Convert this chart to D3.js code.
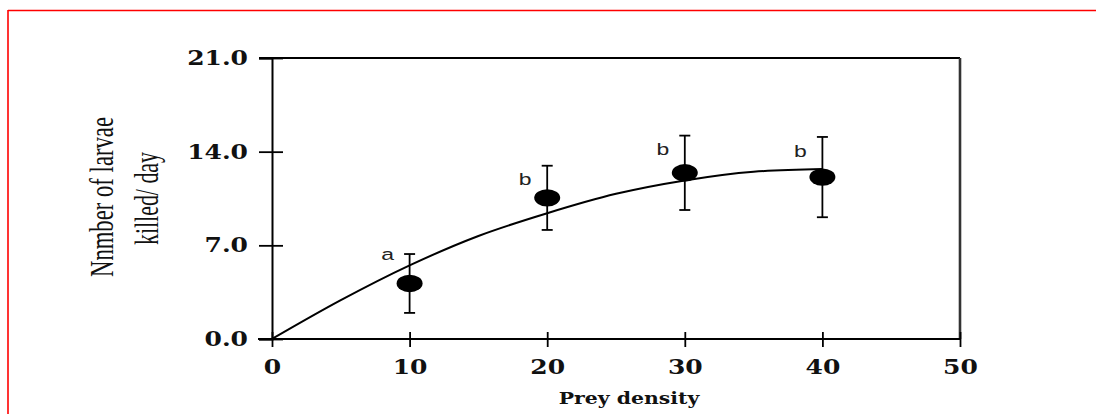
<!DOCTYPE html>
<html>
<head>
<meta charset="utf-8">
<script src="https://cdn.jsdelivr.net/npm/d3@7"></script>
<style>
  body { margin: 0; background: #fff; }
  svg { display: block; }
</style>
</head>
<body>
<svg id="chart" width="1096" height="414"></svg>
<script>
// values
var density = [10, 20, 30, 40];
var killed = [4.15, 10.55, 12.42, 12.1];
var killedSd = [2.2, 2.4, 2.78, 3.0];
var groups = ['a', 'b', 'b', 'b'];
var groupAt = [5.9, 11.5, 13.75, 13.6];
var fitX = [0, 5, 10, 15, 20, 25, 30, 35, 40];
var fitY = [0, 2.9, 5.5, 7.7, 9.4, 10.85, 11.85, 12.5, 12.7];
var xTicks = [0, 10, 20, 30, 40, 50];
var yTicks = [0, 7, 14, 21];

var svg = d3.select('#chart');
var plotL = 272, plotR = 960, plotT = 58, plotB = 339;

var x = d3.scaleLinear().domain([0, 50]).range([plotL, plotR]);
var y = d3.scaleLinear().domain([0, 21]).range([plotB, plotT]);

// red frame (only top and left edges show)
svg.append('line').attr('x1', 8).attr('x2', 8).attr('y1', 10).attr('y2', 414)
    .attr('stroke', '#ff0000').attr('stroke-width', 1.6);
svg.append('line').attr('x1', 8).attr('x2', 1096).attr('y1', 10.5).attr('y2', 10.5)
    .attr('stroke', '#ff0000').attr('stroke-width', 1.6);

// plot box
svg.append('line').attr('x1', plotL - 13).attr('x2', plotR).attr('y1', plotT).attr('y2', plotT)
    .attr('stroke', '#000').attr('stroke-width', 1.8);
svg.append('line').attr('x1', plotR).attr('x2', plotR).attr('y1', plotT).attr('y2', plotB)
    .attr('stroke', '#333').attr('stroke-width', 2.6);

var tickFont = 'DejaVu Serif';

// y axis
var yAxis = svg.append('g').attr('transform', 'translate(' + plotL + ',0)')
    .call(d3.axisLeft(y).tickValues(yTicks).tickSizeOuter(0).tickSize(13)
        .tickFormat(d3.format('.1f')));
yAxis.select('.domain').attr('stroke', '#000').attr('stroke-width', 2);
yAxis.selectAll('.tick line').attr('x1', 11).attr('x2', -13)
    .attr('stroke', '#000').attr('stroke-width', 1.8);
yAxis.selectAll('.tick text')
    .attr('x', null)
    .attr('transform', 'translate(-24,0) scale(1.25,1)')
    .attr('text-anchor', 'end')
    .attr('font-family', tickFont).attr('font-weight', 'bold').attr('font-size', 20)
    .attr('fill', '#111');

// x axis
var xAxis = svg.append('g').attr('transform', 'translate(0,' + plotB + ')')
    .call(d3.axisBottom(x).tickValues(xTicks).tickSizeOuter(0).tickSize(8));
xAxis.select('.domain').attr('stroke', '#000').attr('stroke-width', 2)
    .attr('d', 'M' + (plotL - 14) + ',0H' + plotR);
xAxis.selectAll('.tick line').attr('y1', -7).attr('y2', 8)
    .attr('stroke', '#000').attr('stroke-width', 1.8);
xAxis.selectAll('.tick text')
    .attr('y', null).attr('dy', null)
    .attr('transform', 'translate(0,35) scale(1.25,1)')
    .attr('text-anchor', 'middle')
    .attr('font-family', tickFont).attr('font-weight', 'bold').attr('font-size', 20)
    .attr('fill', '#111');

// axis titles
svg.append('text')
    .attr('transform', 'translate(629,404) scale(1.2,1)')
    .attr('text-anchor', 'middle')
    .attr('font-family', tickFont).attr('font-weight', 'bold').attr('font-size', 17)
    .attr('fill', '#111')
    .text('Prey density');

svg.append('text')
    .attr('transform', 'translate(113,197) rotate(-90)')
    .attr('text-anchor', 'middle')
    .attr('font-family', 'Liberation Serif').attr('font-size', 34)
    .attr('textLength', 160).attr('lengthAdjust', 'spacingAndGlyphs')
    .attr('fill', '#111')
    .text('Nnmber of larvae');
svg.append('text')
    .attr('transform', 'translate(158,198.5) rotate(-90)')
    .attr('text-anchor', 'middle')
    .attr('font-family', 'Liberation Serif').attr('font-size', 34)
    .attr('textLength', 93).attr('lengthAdjust', 'spacingAndGlyphs')
    .attr('fill', '#111')
    .text('killed/ day');

// fitted curve
var line = d3.line()
    .x(function (d, i) { return x(d); })
    .y(function (d, i) { return y(fitY[i]); })
    .curve(d3.curveMonotoneX);
svg.append('path').datum(fitX)
    .attr('d', line)
    .attr('fill', 'none').attr('stroke', '#000').attr('stroke-width', 2);

// error bars, points, letters
var pts = svg.append('g').selectAll('g').data(density).enter().append('g');

pts.append('line')
    .attr('x1', function (d) { return x(d); })
    .attr('x2', function (d) { return x(d); })
    .attr('y1', function (d, i) { return y(killed[i] + killedSd[i]); })
    .attr('y2', function (d, i) { return y(killed[i] - killedSd[i]); })
    .attr('stroke', '#000').attr('stroke-width', 1.8);
[1, -1].forEach(function (s) {
    pts.append('line')
        .attr('x1', function (d) { return x(d) - 5.5; })
        .attr('x2', function (d) { return x(d) + 5.5; })
        .attr('y1', function (d, i) { return y(killed[i] + s * killedSd[i]); })
        .attr('y2', function (d, i) { return y(killed[i] + s * killedSd[i]); })
        .attr('stroke', '#000').attr('stroke-width', 1.8);
});
pts.append('ellipse')
    .attr('cx', function (d) { return x(d); })
    .attr('cy', function (d, i) { return y(killed[i]); })
    .attr('rx', 13).attr('ry', 8.7)
    .attr('fill', '#000');
pts.append('text')
    .attr('transform', function (d, i) {
        return 'translate(' + (x(d) - 22) + ',' + y(groupAt[i]) + ') scale(1.35,1)';
    })
    .attr('text-anchor', 'middle')
    .attr('font-family', 'Liberation Sans').attr('font-size', 17)
    .attr('fill', '#222')
    .text(function (d, i) { return groups[i]; });
</script>
</body>
</html>
